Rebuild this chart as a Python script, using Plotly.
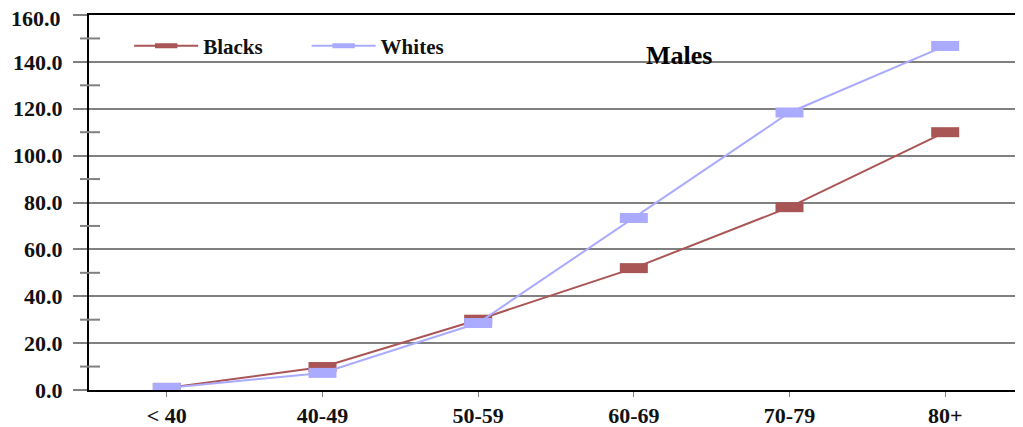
import plotly.graph_objects as go

categories = ["< 40", "40-49", "50-59", "60-69", "70-79", "80+"]
blacks = [0.9, 9.8, 30.0, 52.0, 78.0, 110.0]
whites = [0.9, 7.3, 28.6, 73.4, 118.4, 146.8]
y_ticks = [0, 20, 40, 60, 80, 100, 120, 140, 160]
y_minor = [10, 30, 50, 70, 90, 110, 130, 150]

# page body has an 8px margin; size the figure to fit the window
W, H = 1015, 419
ML, MR, MT, MB = 81, 0, 7, 37
PW = W - ML - MR
PH = H - MT - MB

serif = "Liberation Serif"
x_font = dict(family=serif, size=22, weight="bold", color="#111")
y_font = dict(family=serif, size=22, weight="bold", color="#111")

fig = go.Figure()
for name, vals, col, lg in [("Blacks", blacks, "#AA5555", "legend"),
                            ("Whites", whites, "#AAAAFF", "legend2")]:
    fig.add_trace(go.Scatter(
        x=categories, y=vals, name=name, mode="lines+markers",
        legend=lg,
        line=dict(color=col, width=2),
        marker=dict(symbol="line-ew", size=20, color=col,
                    line=dict(color=col, width=10)),
    ))

shapes = []
for v in y_minor:
    shapes.append(dict(type="line", xref="paper", yref="y",
                       x0=-9 / PW, x1=11 / PW, y0=v, y1=v,
                       line=dict(color="#808080", width=2)))

# top tick label is drawn a little lower (as in the original) so it is not clipped
tick_text = [f"{v:.1f}" for v in y_ticks[:-1]] + [""]

leg_common = dict(orientation="h", yanchor="middle", xanchor="left",
                  font=dict(family=serif, size=21, weight="bold", color="#111"),
                  bgcolor="rgba(0,0,0,0)", itemwidth=64)

fig.update_layout(
    width=W, height=H,
    margin=dict(l=ML, r=MR, t=MT, b=MB, autoexpand=False),
    plot_bgcolor="white", paper_bgcolor="white",
    showlegend=True,
    legend=dict(x=0.043, y=0.917, **leg_common),
    legend2=dict(x=0.233, y=0.917, **leg_common),
    xaxis=dict(type="category", range=[-0.5, 5.5], showgrid=False,
               showline=True, linecolor="black", linewidth=2, mirror=True,
               ticks="outside", ticklen=5, tickcolor="#808080", tickwidth=1,
               tickfont=x_font, fixedrange=True, automargin=False),
    yaxis=dict(range=[0, 160], tickvals=y_ticks, ticktext=tick_text,
               showgrid=True, gridcolor="#808080", gridwidth=2,
               showline=True, linecolor="black", linewidth=2,
               ticks="outside", ticklen=14, tickcolor="#808080", tickwidth=2,
               ticklabelstandoff=6, ticklabeloverflow="allow", zeroline=False,
               tickfont=y_font, fixedrange=True, automargin=False),
    shapes=shapes,
    annotations=[
        dict(text="Males", xref="paper", yref="paper",
             x=(679 - 89) / 934, y=(390 - 55) / 375, showarrow=False,
             xanchor="center", yanchor="middle",
             font=dict(family=serif, size=26, weight="bold", color="black")),
        dict(text=f"{y_ticks[-1]:.1f}", xref="paper", yref="y",
             x=-26 / PW, y=y_ticks[-1], yshift=-3, showarrow=False,
             xanchor="right", yanchor="middle",
             font=y_font),
    ],
)

fig.write_html("out.html")
